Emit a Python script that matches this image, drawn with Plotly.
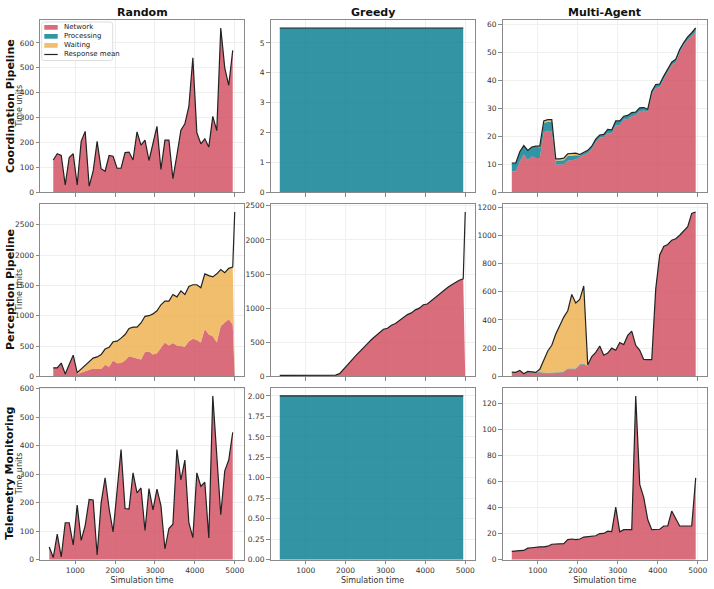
import plotly.graph_objects as go

W, H = 714, 589

# ---------------- data ----------------
SIM_TIME = [350, 450, 550, 650, 750, 850, 950, 1050, 1150, 1250, 1350, 1450, 1550, 1650,
            1750, 1850, 1950, 2050, 2150, 2250, 2350, 2450, 2550, 2650, 2750, 2850, 2950,
            3050, 3150, 3250, 3350, 3450, 3550, 3650, 3750, 3850, 3950, 4050, 4150, 4250,
            4350, 4450, 4550, 4650, 4750, 4850, 4950]
SIM_TIME_LATE = SIM_TIME[1:]            # series starting at 450
END_TIME = [5000]

# Random / Coordination
RC_network = [130, 155, 148, 30, 140, 155, 30, 205, 245, 25, 85, 205, 95, 85, 148, 145, 97, 97,
              160, 162, 130, 243, 190, 210, 128, 195, 265, 92, 210, 210, 55, 150, 250, 275, 345,
              540, 240, 195, 215, 182, 305, 248, 660, 500, 430, 570]
# Random / Perception
RP_total = [140, 140, 220, 40, 195, 350, 60, 120, 190, 240, 300, 320, 360, 450, 480, 570, 580,
            630, 690, 790, 810, 810, 880, 990, 1000, 1030, 1080, 1180, 1240, 1240, 1350, 1310,
            1410, 1350, 1480, 1510, 1510, 1460, 1690, 1660, 1640, 1690, 1760, 1710, 1780, 1800,
            2710]
RP_network = [140, 140, 220, 40, 195, 350, 40, 60, 80, 100, 130, 120, 120, 190, 160, 260, 215,
              220, 260, 330, 310, 290, 280, 400, 410, 360, 380, 470, 560, 510, 550, 510, 500,
              490, 580, 620, 600, 560, 780, 690, 660, 560, 830, 880, 940, 850, 0]
RP_stack_end = [1, 1, 1, 1, 1, 1, 1, 1, 1, 1, 1, 1, 1, 1, 1, 1, 1, 1, 1, 1, 1, 1, 1, 1, 1, 1, 1,
                1, 1, 1, 1, 1, 1, 1, 1, 1, 1, 1, 1, 1, 1, 1, 1, 1, 1, 1, 0]
# Random / Telemetry
RT_network = [45, 8, 90, 10, 130, 130, 52, 192, 68, 120, 212, 210, 17, 200, 288, 180, 98, 250,
              387, 180, 178, 305, 235, 252, 103, 250, 175, 248, 190, 38, 110, 125, 387, 280, 350,
              130, 78, 305, 258, 272, 77, 575, 350, 158, 312, 350, 447]

# Greedy
GC_processing = [5.5] * 47
GP_total = [15, 15, 15, 15, 15, 15, 15, 15, 15, 15, 15, 15, 15, 15, 18, 40, 110, 170, 235, 300,
            365, 420, 480, 540, 590, 640, 690, 705, 750, 775, 820, 860, 905, 930, 975, 1000,
            1050, 1060, 1110, 1160, 1210, 1250, 1300, 1340, 1380, 1410, 1430, 2410]
GP_network = GP_total[:-1] + [0]
GT_processing = [2.0] * 47

# Multi-Agent / Coordination
MC_total = [10.5, 10.5, 14.5, 16.7, 15, 16.2, 16.5, 16.5, 25.5, 26, 26, 12, 12, 12.2, 13.8, 14,
            14, 13.5, 14.2, 15, 16.5, 19, 20.5, 20.7, 22.5, 22.3, 25.5, 25.5, 27.2, 27.5, 28.5,
            28.7, 30.2, 30.3, 29.7, 36, 38.5, 38.7, 41.5, 44, 46.5, 47.5, 51, 53.5, 55.5, 57, 58.7]
MC_network = [7.5, 7.5, 11, 13.5, 11.5, 12.8, 12.3, 12.3, 21.5, 22, 21.8, 10, 10, 10, 11.3, 11.5,
              11.7, 12.6, 13.3, 14, 15.5, 18, 19.5, 19.8, 21.2, 21, 24, 24, 26, 26.2, 27.2, 27.5,
              29, 29.2, 28.8, 35, 37.3, 37.5, 40.5, 43, 45.5, 46.5, 50, 52.5, 54.5, 55.8, 57.3]
MC_waiting = [0, 0, 0, 0, 0, 0, 0, 0.5, 0.7, 0.8, 0.7, 0.6, 0.6, 0.7, 0.8, 0.8, 0.7, 0.3, 0, 0,
              0, 0, 0, 0, 0, 0, 0, 0, 0, 0, 0, 0, 0, 0, 0, 0, 0, 0, 0, 0, 0, 0, 0, 0, 0, 0, 0]

# Multi-Agent / Perception
MP_total = [30, 28, 42, 18, 35, 32, 28, 50, 110, 180, 220, 300, 360, 420, 465, 580, 520, 545,
            640, 80, 140, 170, 215, 150, 165, 200, 185, 240, 225, 290, 320, 220, 185, 120, 118,
            118, 620, 860, 920, 935, 965, 975, 1000, 1030, 1060, 1155, 1165]
MP_network = [25, 23, 37, 14, 30, 27, 23, 25, 22, 20, 20, 22, 25, 30, 50, 50, 50, 80, 85, 70,
              140, 170, 215, 150, 165, 200, 185, 240, 225, 290, 320, 220, 185, 120, 118, 118,
              620, 860, 920, 935, 965, 975, 1000, 1030, 1060, 1155, 1165]
MP_processing = [5, 5, 5, 4, 5, 5, 5, 5, 5, 5, 5, 5, 5, 5, 5, 5, 5, 5, 5, 5, 0, 0, 0, 0, 0, 0,
                 0, 0, 0, 0, 0, 0, 0, 0, 0, 0, 0, 0, 0, 0, 0, 0, 0, 0, 0, 0, 0]

# Multi-Agent / Telemetry
MT_network = [6.5, 6.5, 7, 7.2, 9, 9.3, 9.8, 10, 10, 10.5, 12, 12.3, 12.3, 12.5, 15.5, 16, 15.5,
              16, 17.5, 17.8, 18.3, 18.5, 20.2, 20.3, 22, 21.7, 40.5, 21.5, 23.2, 23.2, 23.2, 126,
              58, 48, 31, 23.2, 23.2, 23.5, 26, 26, 37.5, 32, 26, 26, 26, 26, 63]

COL_TITLES = ["Random", "Greedy", "Multi-Agent"]
ROW_TITLES = ["Coordination Pipeline", "Perception Pipeline", "Telemetry Monitoring"]
X_TICKS = [1000, 2000, 3000, 4000, 5000]
LEGEND_ITEMS = ["Network", "Processing", "Waiting", "Response mean"]


def zeros(n):
    return [0] * n


def build_panels():
    p = {}
    # (x, network, processing, waiting, mean)
    p[(0, 0)] = (SIM_TIME_LATE, RC_network, zeros(46), zeros(46), RC_network)
    rp_wait = [(t - n) * s for t, n, s in zip(RP_total, RP_network, RP_stack_end)]
    p[(1, 0)] = (SIM_TIME_LATE + END_TIME, RP_network, zeros(47), rp_wait, RP_total)
    p[(2, 0)] = (SIM_TIME, RT_network, zeros(47), zeros(47), RT_network)
    p[(0, 1)] = (SIM_TIME, zeros(47), GC_processing, zeros(47), GC_processing)
    p[(1, 1)] = (SIM_TIME + END_TIME, GP_network, zeros(48), zeros(48), GP_total)
    p[(2, 1)] = (SIM_TIME, zeros(47), GT_processing, zeros(47), GT_processing)
    mc_proc = [t - n - w for t, n, w in zip(MC_total, MC_network, MC_waiting)]
    p[(0, 2)] = (SIM_TIME, MC_network, mc_proc, MC_waiting, MC_total)
    mp_wait = [t - n - pr for t, n, pr in zip(MP_total, MP_network, MP_processing)]
    p[(1, 2)] = (SIM_TIME, MP_network, MP_processing, mp_wait, MP_total)
    p[(2, 2)] = (SIM_TIME, MT_network, zeros(47), zeros(47), MT_network)
    return p


Y_DTICK = {(0, 0): 100, (1, 0): 500, (2, 0): 100,
           (0, 1): 1, (1, 1): 500, (2, 1): 0.25,
           (0, 2): 10, (1, 2): 200, (2, 2): 20}

COLORS = {"Network": "rgba(209,73,91,0.8)",
          "Processing": "rgba(0,121,140,0.8)",
          "Waiting": "rgba(237,174,73,0.8)"}
LINE_COLOR = "#222222"

# pixel layout
COL_X = [(40, 244), (270.5, 474.5), (502.5, 707)]
ROW_Y = [(17, 192), (203.5, 378.5), (390, 564.5)]
FONT = "DejaVu Sans"


def px(x):
    return x / W


def py(y):
    return 1 - y / H


fig = go.Figure()
panels = build_panels()
layout_axes = {}
for (r, c), (xs, net, proc, wait, mean) in panels.items():
    idx = r * 3 + c + 1
    xa = "x" if idx == 1 else f"x{idx}"
    ya = "y" if idx == 1 else f"y{idx}"
    for name, vals in (("Network", net), ("Processing", proc), ("Waiting", wait)):
        fig.add_trace(go.Scatter(
            x=xs, y=vals, name=name, mode="lines", line=dict(width=0),
            fillcolor=COLORS[name], stackgroup=f"s{idx}", xaxis=xa, yaxis=ya,
            showlegend=False, hoverinfo="skip"))
    fig.add_trace(go.Scatter(
        x=xs, y=mean, name="Response mean", mode="lines",
        line=dict(color=LINE_COLOR, width=1.2), xaxis=xa, yaxis=ya,
        showlegend=False))

    x0, x1 = COL_X[c]
    y0, y1 = ROW_Y[r]
    ymax = max(mean) * 1.05
    dt = Y_DTICK[(r, c)]
    common = dict(showline=True, mirror=True, linecolor="#8a8a8a", linewidth=1,
                  ticks="outside", ticklen=3.5, tickwidth=1, tickcolor="#8a8a8a",
                  showgrid=True, gridcolor="#efefef", gridwidth=0.7, zeroline=False,
                  tickfont=dict(family=FONT, size=7.5, color="#333333"))
    layout_axes["xaxis" if idx == 1 else f"xaxis{idx}"] = dict(
        domain=[px(x0), px(x1)], anchor=ya, range=[117.5, 5232.5],
        tickvals=X_TICKS, showticklabels=(r == 2),
        title=dict(text="Simulation time", font=dict(family=FONT, size=8, color="#333333"),
                   standoff=3) if r == 2 else None,
        **common)
    layout_axes["yaxis" if idx == 1 else f"yaxis{idx}"] = dict(
        domain=[py(y1), py(y0)], anchor=xa, range=[0, ymax],
        tick0=0, dtick=dt, tickformat=".2f" if dt == 0.25 else None,
        **common)

fig.update_layout(**layout_axes)

ann = []
for c, t in enumerate(COL_TITLES):
    x0, x1 = COL_X[c]
    ann.append(dict(text=f"<b>{t}</b>", x=px((x0 + x1) / 2), y=py(9.5),
                    xref="paper", yref="paper", showarrow=False,
                    font=dict(family=FONT, size=11, color="#111111"),
                    xanchor="center", yanchor="middle"))
for r, t in enumerate(ROW_TITLES):
    y0, y1 = ROW_Y[r]
    yc = py((y0 + y1) / 2)
    ann.append(dict(text=f"<b>{t}</b>", x=px(10), y=yc, xref="paper", yref="paper",
                    showarrow=False, textangle=-90,
                    font=dict(family=FONT, size=11, color="#111111"),
                    xanchor="center", yanchor="middle"))
    ann.append(dict(text="Time units", x=px(19.5), y=yc, xref="paper", yref="paper",
                    showarrow=False, textangle=-90,
                    font=dict(family=FONT, size=8, color="#333333"),
                    xanchor="center", yanchor="middle"))

# compact legend box (matplotlib style) in the top-left panel
shapes = []
lx0, lx1, ly0, ly1, rad = 41.7, 112.7, 19.3, 58.3, 2.5
path = (f"M {px(lx0 + rad)},{py(ly0)} L {px(lx1 - rad)},{py(ly0)} "
        f"Q {px(lx1)},{py(ly0)} {px(lx1)},{py(ly0 + rad)} "
        f"L {px(lx1)},{py(ly1 - rad)} Q {px(lx1)},{py(ly1)} {px(lx1 - rad)},{py(ly1)} "
        f"L {px(lx0 + rad)},{py(ly1)} Q {px(lx0)},{py(ly1)} {px(lx0)},{py(ly1 - rad)} "
        f"L {px(lx0)},{py(ly0 + rad)} Q {px(lx0)},{py(ly0)} {px(lx0 + rad)},{py(ly0)} Z")
shapes.append(dict(type="path", path=path, xref="paper", yref="paper",
                   fillcolor="rgba(255,255,255,0.8)", line=dict(color="#d4d4d4", width=0.8),
                   layer="above"))
row_y = [24.7, 33.8, 43.0, 52.2]
for item, yy in zip(LEGEND_ITEMS, row_y):
    if item in COLORS:
        shapes.append(dict(type="rect", xref="paper", yref="paper",
                           x0=px(44.3), x1=px(57.7), y0=py(yy + 2.4), y1=py(yy - 2.4),
                           fillcolor=COLORS[item], line=dict(width=0), layer="above"))
    else:
        shapes.append(dict(type="line", xref="paper", yref="paper",
                           x0=px(44.3), x1=px(57.7), y0=py(yy), y1=py(yy),
                           line=dict(color=LINE_COLOR, width=1.2), layer="above"))
    ann.append(dict(text=item, x=px(61.5), y=py(yy), xref="paper", yref="paper",
                    showarrow=False, xanchor="left", yanchor="middle",
                    font=dict(family=FONT, size=7, color="#222222")))

fig.update_layout(
    width=W, height=H, margin=dict(l=0, r=0, t=0, b=0),
    paper_bgcolor="white", plot_bgcolor="white",
    annotations=ann, shapes=shapes, showlegend=False,
    font=dict(family=FONT),
)

fig.write_html("out.html")
